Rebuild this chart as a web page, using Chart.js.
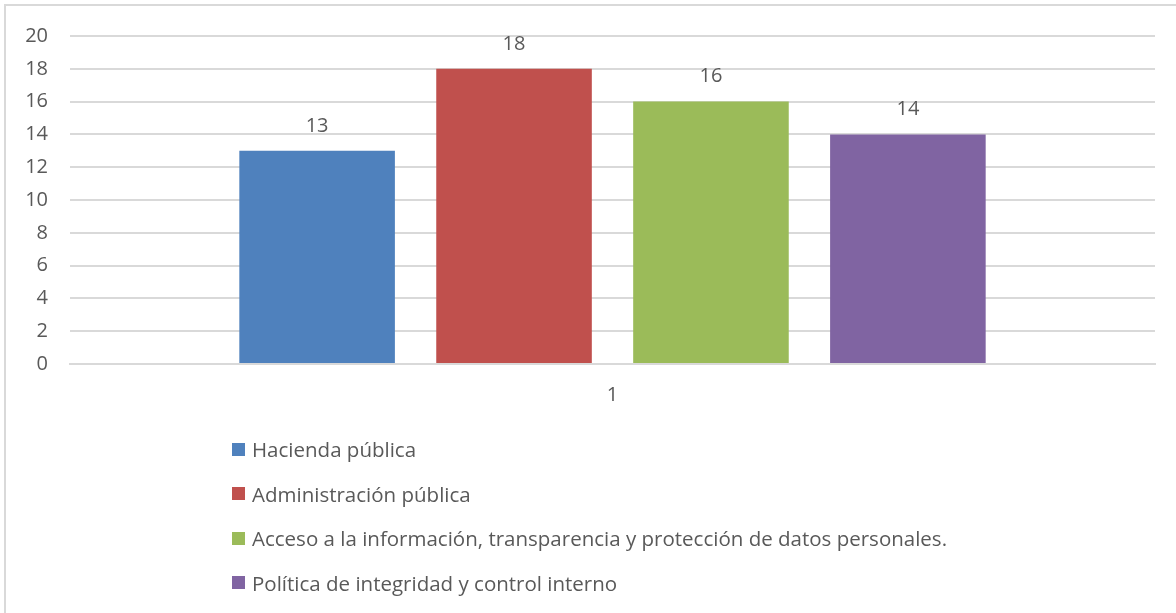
<!DOCTYPE html>
<html>
<head>
<meta charset="utf-8">
<script src="https://cdn.jsdelivr.net/npm/chart.js@4.4.1/dist/chart.umd.min.js"></script>
<style>
  html, body { margin: 0; padding: 0; background: #fff; overflow: hidden; }
  #wrap { position: relative; width: 1176px; height: 613px; }
  #frame { position: absolute; left: 4px; top: 4px; width: 1200px; height: 640px; border: 2px solid #d9d9d9; box-sizing: border-box; }
  #chart { position: absolute; left: 0; top: 0; }
  #legend { position: absolute; left: 232px; top: 427px; margin: 0; padding: 0; list-style: none;
            font-family: "Open Sans", sans-serif; font-size: 20.5px; color: #595959; }
  #legend li { height: 44.5px; display: flex; align-items: center; white-space: nowrap; }
  #legend .box { width: 13px; height: 13px; margin: 0 7px 0 0; flex: none; }
</style>
</head>
<body>
<div id="wrap">
  <div id="frame"></div>
  <canvas id="chart" width="1176" height="613"></canvas>
  <ul id="legend"></ul>
</div>
<script>
// categorías del eje X y una serie por tema
const categorias = ['1'];
const temas = [
    'Hacienda pública',
    'Administración pública',
    'Acceso a la información, transparencia y protección de datos personales.',
    'Política de integridad y control interno'
];
const valores = [13, 18, 16, 14];
const colores = ['#4f81bd', '#c0504d', '#9bbb59', '#8064a2'];
const ticksY = [0, 20, 2];

const fuente = '"Open Sans", sans-serif';
const gris = '#595959';

// etiqueta con el valor encima de cada barra
const etiquetas = {
    id: 'etiquetas',
    afterDatasetsDraw(chart) {
        const ctx = chart.ctx;
        ctx.save();
        ctx.font = '20px ' + fuente;
        ctx.fillStyle = gris;
        ctx.textAlign = 'center';
        ctx.textBaseline = 'middle';
        chart.data.datasets.forEach(function (ds, i) {
            chart.getDatasetMeta(i).data.forEach(function (bar, j) {
                ctx.fillText(ds.data[j], bar.x, bar.y - 25);
            });
        });
        ctx.restore();
    }
};

const chart = new Chart(document.getElementById('chart'), {
    type: 'bar',
    data: {
        labels: categorias,
        datasets: temas.map(function (t, i) {
            return {
                label: t,
                data: [valores[i]],
                backgroundColor: colores[i],
                categoryPercentage: 0.726,
                barPercentage: 0.79
            };
        })
    },
    options: {
        responsive: false,
        animation: false,
        layout: { padding: { top: 36, right: 21, left: 0, bottom: 0 } },
        plugins: {
            legend: { display: false },
            tooltip: { enabled: false }
        },
        scales: {
            x: {
                grid: { display: false, drawTicks: false },
                border: { display: true, color: '#d9d9d9', width: 2 },
                ticks: { color: gris, font: { family: fuente, size: 20 }, padding: 19 },
                afterFit: function (s) { s.height = 249; }
            },
            y: {
                min: ticksY[0],
                max: ticksY[1],
                ticks: { stepSize: ticksY[2], color: gris, font: { family: fuente, size: 20 }, padding: 22 },
                grid: { color: '#d9d9d9', lineWidth: 2, drawTicks: false },
                border: { display: false },
                afterFit: function (s) { s.width = 70; }
            }
        }
    },
    plugins: [etiquetas]
});

// leyenda vertical debajo del gráfico
const ul = document.getElementById('legend');
chart.data.datasets.forEach(function (ds) {
    const li = document.createElement('li');
    const box = document.createElement('span');
    box.className = 'box';
    box.style.background = ds.backgroundColor;
    li.appendChild(box);
    li.appendChild(document.createTextNode(ds.label));
    ul.appendChild(li);
});
</script>
</body>
</html>
